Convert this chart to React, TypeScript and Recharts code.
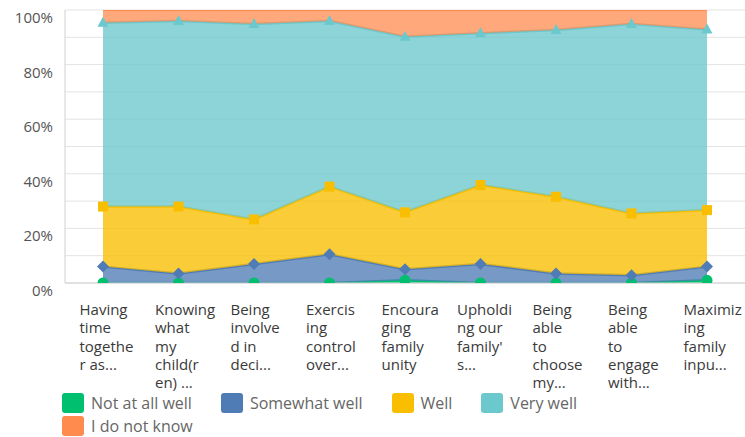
import React from "react";
import { AreaChart, Area, XAxis, YAxis, CartesianGrid } from "recharts";

const categories = [
  "Having time together as...",
  "Knowing what my child(ren) ...",
  "Being involved in deci...",
  "Exercising control over...",
  "Encouraging family unity",
  "Upholding our family's...",
  "Being able to choose my...",
  "Being able to engage with...",
  "Maximizing family inpu...",
];

const tickLines = [
  ["Having", "time", "togethe", "r as..."],
  ["Knowing", "what", "my", "child(r", "en) ..."],
  ["Being", "involve", "d in", "deci..."],
  ["Exercis", "ing", "control", "over..."],
  ["Encoura", "ging", "family", "unity"],
  ["Upholdi", "ng our", "family'", "s..."],
  ["Being", "able", "to", "choose", "my..."],
  ["Being", "able", "to", "engage", "with..."],
  ["Maximiz", "ing", "family", "inpu..."],
];

const notAtAllWell = [0, 0, 0, 0, 1, 0, 0, 0, 1];
const somewhatWell = [6, 3.5, 7, 10.5, 4, 7, 3.5, 2.8, 5];
const well = [22, 24.5, 16.3, 24.8, 20.9, 28.9, 28.1, 22.7, 20.7];
const veryWell = [67.3, 68, 71.6, 60.7, 64.3, 55.6, 61.1, 69.4, 66.2];
const doNotKnow = [4.7, 4, 5.1, 4, 9.8, 8.5, 7.3, 5.1, 7.1];

const yTicks = [0, 10, 20, 30, 40, 50, 60, 70, 80, 90, 100];

const seriesNames = ["Not at all well", "Somewhat well", "Well", "Very well", "I do not know"];
const seriesColors = ["#00BF6F", "#507CB6", "#F9BE00", "#6BC8CD", "#FF8B4F"];

const data = categories.map((name, i) => ({
  name,
  idx: i,
  a: notAtAllWell[i],
  b: somewhatWell[i],
  c: well[i],
  d: veryWell[i],
  e: doNotKnow[i],
}));

const FONT = "'Open Sans', 'DejaVu Sans', sans-serif";

const XTick = (props: any) => {
  const { x, y, payload } = props;
  const lines = tickLines[payload.index] || [];
  return (
    <g>
      {lines.map((l: string, i: number) => (
        <text
          key={i}
          x={x - 23.5}
          y={y + 26 + i * 18.3}
          dominantBaseline="central"
          textAnchor="start"
          fontFamily={FONT}
          fontSize={15}
          fill="#3a3a3a"
        >
          {l}
        </text>
      ))}
    </g>
  );
};

const YTick = (props: any) => {
  const { x, y, payload } = props;
  if (payload.value % 20 !== 0) return <g />;
  return (
    <text
      x={x - 12}
      y={y + 7}
      textAnchor="end"
      dominantBaseline="central"
      fontFamily={FONT}
      fontSize={15}
      fill="#555"
    >
      {payload.value}%
    </text>
  );
};

const makeDot = (kind: string, color: string) => (props: any) => {
  const { cx, cy, index } = props;
  if (cx == null || cy == null) return <g key={index} />;
  if (kind === "circle") return <circle key={index} cx={cx} cy={cy} r={5.5} fill={color} />;
  if (kind === "diamond")
    return (
      <polygon
        key={index}
        points={`${cx},${cy - 6} ${cx + 6},${cy} ${cx},${cy + 6} ${cx - 6},${cy}`}
        fill={color}
      />
    );
  if (kind === "square")
    return <rect key={index} x={cx - 5} y={cy - 5} width={10} height={10} fill={color} />;
  if (kind === "triangle")
    return (
      <polygon
        key={index}
        points={`${cx},${cy - 6} ${cx + 5.5},${cy + 4} ${cx - 5.5},${cy + 4}`}
        fill={color}
      />
    );
  return <g key={index} />;
};

const legendRows = [
  [0, 1, 2, 3],
  [4],
];

export default function App() {
  return (
    <div style={{ position: "absolute", left: 0, top: 0, width: 745, height: 437, overflow: "hidden", background: "#fff" }}>
      <AreaChart
        width={745}
        height={437}
        data={data}
        margin={{ top: 10, right: 0, bottom: 0, left: 0 }}
      >
        <CartesianGrid vertical={false} stroke="#e3e3e3" />
        <XAxis
          dataKey="name"
          height={154}
          interval={0}
          padding={{ left: 38, right: 38 }}
          tickSize={0}
          tickMargin={0}
          axisLine={{ stroke: "#d0d0d0" }}
          tickLine={false}
          tick={<XTick />}
        />
        <YAxis
          width={65}
          domain={[0, 100]}
          ticks={yTicks}
          interval={0}
          allowDataOverflow
          tickSize={0}
          tickMargin={0}
          axisLine={{ stroke: "#d0d0d0" }}
          tickLine={false}
          tick={<YTick />}
        />
        <Area type="linear" dataKey="a" stackId="1" name={seriesNames[0]} stroke={seriesColors[0]} strokeWidth={2.5} fill={seriesColors[0]} fillOpacity={0.8} dot={makeDot("circle", seriesColors[0])} activeDot={false} isAnimationActive={false} />
        <Area type="linear" dataKey="b" stackId="1" name={seriesNames[1]} stroke={seriesColors[1]} strokeWidth={2.5} fill={seriesColors[1]} fillOpacity={0.78} dot={makeDot("diamond", seriesColors[1])} activeDot={false} isAnimationActive={false} />
        <Area type="linear" dataKey="c" stackId="1" name={seriesNames[2]} stroke={seriesColors[2]} strokeWidth={2.5} fill={seriesColors[2]} fillOpacity={0.78} dot={makeDot("square", seriesColors[2])} activeDot={false} isAnimationActive={false} />
        <Area type="linear" dataKey="d" stackId="1" name={seriesNames[3]} stroke={seriesColors[3]} strokeWidth={2.5} fill={seriesColors[3]} fillOpacity={0.78} dot={makeDot("triangle", seriesColors[3])} activeDot={false} isAnimationActive={false} />
        <Area type="linear" dataKey="e" stackId="1" name={seriesNames[4]} stroke={seriesColors[4]} strokeWidth={2} fill={seriesColors[4]} fillOpacity={0.75} dot={false} activeDot={false} isAnimationActive={false} />
      </AreaChart>
      {legendRows.map((row, r) => (
        <div
          key={r}
          style={{
            position: "absolute",
            left: 62,
            top: 393 + r * 23,
            height: 20,
            display: "flex",
            alignItems: "center",
            fontFamily: FONT,
            fontSize: 16,
            lineHeight: "18px",
            color: "#666",
            whiteSpace: "nowrap",
          }}
        >
          {row.map((si) => (
            <div key={si} style={{ display: "flex", alignItems: "center", marginRight: 29 }}>
              <div style={{ width: 22, height: 20, borderRadius: 3, background: seriesColors[si], marginRight: 7 }} />
              <span>{seriesNames[si]}</span>
            </div>
          ))}
        </div>
      ))}
    </div>
  );
}
